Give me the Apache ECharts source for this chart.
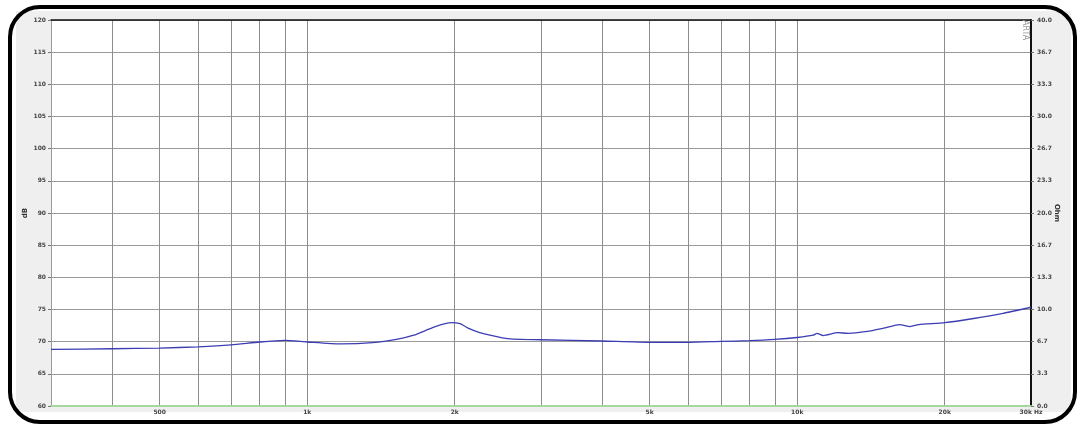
<!DOCTYPE html>
<html>
<head>
<meta charset="utf-8">
<title>Frequency response</title>
<script src="https://cdn.jsdelivr.net/npm/echarts@6/dist/echarts.min.js"></script>
<style>
  html, body { margin: 0; padding: 0; background: #fff; }
  #chart { width: 1080px; height: 429px; }
</style>
</head>
<body>
<div id="chart"></div>
<script>
// 频率 (Hz)
const freqs = [300, 400, 500, 600, 700, 800, 900, 1000, 1170, 1360, 1530, 1650, 1820, 1970, 2050, 2130,
  2250, 2500, 2630, 3000, 4000, 5000, 6000, 7000, 8000, 9000, 10000, 10780, 10970, 11300, 12100,
  12700, 13900, 15000, 16200, 17000, 17700, 20000, 22900, 26300, 30000];
// 声压级 (dB)
const levels = [68.8, 68.9, 69.0, 69.2, 69.5, 69.95, 70.2, 69.95, 69.65, 69.85, 70.4, 71.0, 72.3, 72.95, 72.8, 72.1,
  71.4, 70.6, 70.4, 70.3, 70.1, 69.9, 69.9, 70.05, 70.15, 70.35, 70.65, 71.0, 71.3, 70.95, 71.4,
  71.3, 71.6, 72.1, 72.65, 72.35, 72.65, 72.95, 73.6, 74.4, 75.35];
// 网格线所在频率
const gridFreqs = [400, 500, 600, 700, 800, 900, 1000, 2000, 3000, 4000, 5000, 6000, 7000, 8000, 9000,
  10000, 20000, 30000];
// 横轴刻度标签
const labelFreqs = [500, 1000, 2000, 5000, 10000, 20000, 30000];
const xMin = 300;
const xMax = 30000;

const lg = Math.log10;

function fmtFreq(v) {
  const f = Math.round(Math.pow(10, v));
  if (f >= xMax) return (f / 1000) + 'k Hz';
  if (f >= 1000) return (f / 1000) + 'k';
  return String(f);
}

const myChart = echarts.init(document.getElementById('chart'));
const options = {
  backgroundColor: '#fff',
  animation: false,
  textStyle: { fontFamily: 'DejaVu Sans' },
  // 外框和灰色面板
  graphic: [
    {
      type: 'rect', z: -10,
      shape: { x: 16, y: 11, width: 1055, height: 401 },
      style: { fill: '#efefef' }
    },
    {
      type: 'rect', z: 100,
      shape: { x: 10, y: 7, width: 1065, height: 415, r: 30 },
      style: { fill: 'none', stroke: '#000', lineWidth: 4 }
    },
    {
      type: 'text', z: 100,
      x: 1029, y: 20, rotation: -Math.PI / 2,
      style: { text: 'ARTA', fontSize: 8, fill: '#999', fontFamily: 'DejaVu Sans' }
    }
  ],
  grid: {
    left: 51, right: 49, top: 20, bottom: 23,
    show: true, backgroundColor: '#fff', borderWidth: 0
  },
  xAxis: [
    {
      type: 'value',
      min: lg(xMin), max: lg(xMax),
      axisLine: { lineStyle: { color: '#a6d89c', width: 2 } },
      axisTick: { show: false, customValues: gridFreqs.map(lg) },
      axisLabel: {
        customValues: labelFreqs.map(lg),
        formatter: fmtFreq,
        fontSize: 6, fontWeight: 'bold', color: '#444', margin: 3
      },
      splitLine: { show: true, lineStyle: { color: '#8c8c8c', width: 1 } }
    },
    {
      type: 'value', position: 'top',
      min: lg(xMin), max: lg(xMax),
      axisLine: { lineStyle: { color: '#111', width: 1.5 } },
      axisTick: { show: false },
      axisLabel: { show: false },
      splitLine: { show: false }
    }
  ],
  yAxis: [
    {
      type: 'value', name: 'dB',
      nameLocation: 'middle', nameGap: 22, nameRotate: 90, nameMoveOverlap: false,
      nameTextStyle: { fontSize: 7, fontWeight: 'bold', color: '#333' },
      min: 60, max: 120, interval: 5,
      axisLine: { show: true, lineStyle: { color: '#999' } },
      axisTick: { show: true, length: 3, lineStyle: { color: '#777' } },
      axisLabel: { fontSize: 6, fontWeight: 'bold', color: '#444', margin: 5 },
      splitLine: { lineStyle: { color: '#9a9a9a', width: 1 } }
    },
    {
      type: 'value', name: 'Ohm', position: 'right',
      nameLocation: 'middle', nameGap: 22, nameRotate: -90, nameMoveOverlap: false,
      nameTextStyle: { fontSize: 7, fontWeight: 'bold', color: '#333' },
      min: 0, max: 40, interval: 40 / 12,
      axisLine: { show: true, lineStyle: { color: '#111', width: 2 } },
      axisTick: { show: true, length: 3, lineStyle: { color: '#777' } },
      axisLabel: {
        fontSize: 6, fontWeight: 'bold', color: '#444', margin: 6,
        formatter: v => v.toFixed(1)
      },
      splitLine: { show: false }
    }
  ],
  series: [{
    name: 'SPL',
    type: 'line',
    xAxisIndex: 0,
    yAxisIndex: 0,
    showSymbol: false,
    smooth: 0.2,
    lineStyle: { color: '#3d3db3', width: 1.3 },
    data: freqs.map((f, i) => [lg(f), levels[i]])
  }]
};
myChart.setOption(options);
</script>
</body>
</html>
